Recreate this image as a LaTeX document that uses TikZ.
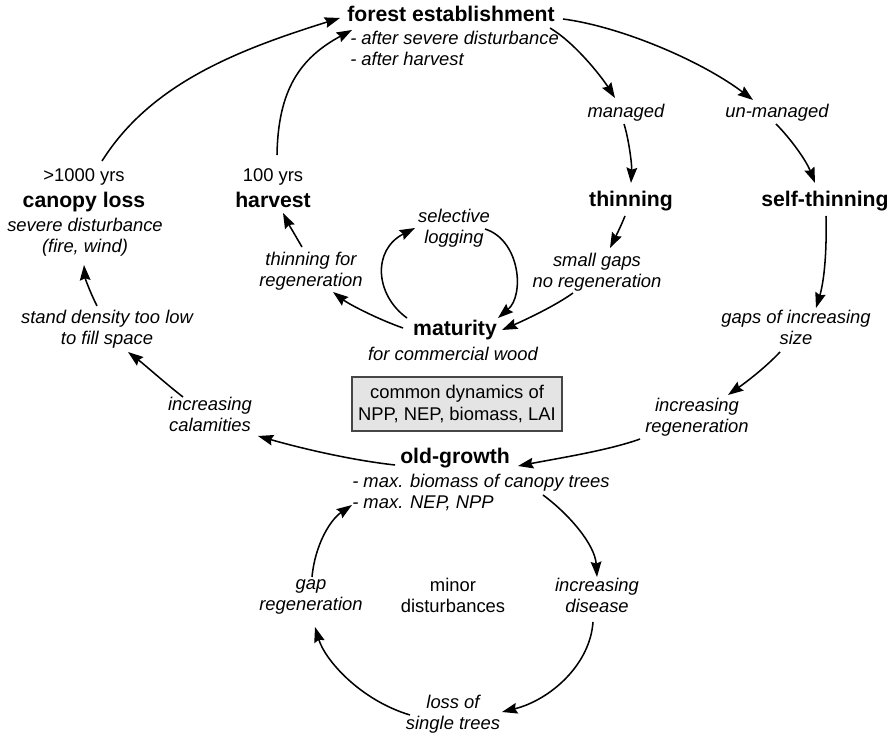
\documentclass[tikz,border=0pt]{standalone}
\usepackage{fontspec}
\setmainfont{Liberation Sans}
\usetikzlibrary{arrows.meta,calc}
\definecolor{boxfill}{RGB}{228,228,228}
\definecolor{boxline}{RGB}{70,70,70}
\begin{document}
\begin{tikzpicture}[x=0.75pt,y=-0.75pt,
  lbl/.style={font=\itshape\fontsize{13.8}{15.75}\selectfont, align=center, inner sep=0pt,
    execute at begin node=\strut, execute at end node=\strut},
  plainlbl/.style={font=\fontsize{13.8}{15.75}\selectfont, align=center, inner sep=0pt,
    execute at begin node=\strut, execute at end node=\strut},
  ttl/.style={font=\bfseries\fontsize{15.9}{19}\selectfont, inner sep=0pt, anchor=base},
  infobox/.style={draw=boxline, fill=boxfill, line width=0.8pt, align=center,
    font=\fontsize{13.8}{16.5}\selectfont, minimum width=157.5pt, minimum height=40.5pt, inner sep=0pt},
  arr/.style={-{Stealth[length=11.5pt,width=8pt,inset=1.5pt]}, line width=1.15pt}]
\useasboundingbox (0,0) rectangle (896,737);

% ---- nodes ----
\node[ttl] (fe) at (451,22) {forest establishment};
\node[lbl, anchor=west, align=left] (fesub) at (350,51.5) {- after severe disturbance\\- after harvest};
\node[lbl] (managed) at (626,113) {managed};
\node[lbl] (unmanaged) at (777,113) {un-managed};
\node[ttl] (thinning) at (631,207) {thinning};
\node[ttl] (selfthin) at (825,207) {self-thinning};
\node[plainlbl] (yrs1000) at (84,177) {>1000 yrs};
\node[ttl] (canopy) at (84,208) {canopy loss};
\node[lbl] (severe) at (85,238.5) {severe disturbance\\(fire, wind)};
\node[plainlbl] (yrs100) at (273,177) {100 yrs};
\node[ttl] (harvest) at (273,208) {harvest};
\node[lbl] (selective) at (454,229) {selective\\logging};
\node[lbl] (thinreg) at (311,272.5) {thinning for\\regeneration};
\node[lbl] (smallgaps) at (597,273) {small gaps\\no regeneration};
\node[ttl] (maturity) at (455,336) {maturity};
\node[lbl] (commercial) at (453,356) {for commercial wood};
\node[infobox] (box) at (457,404) {common dynamics of\\NPP, NEP, biomass, LAI};
\node[lbl] (stand) at (107,330) {stand density too low\\to fill space};
\node[lbl] (calam) at (210,417.5) {increasing\\calamities};
\node[lbl] (gapsinc) at (796,330) {gaps of increasing\\size};
\node[lbl] (increg) at (697,418) {increasing\\regeneration};
\node[ttl] (oldgrowth) at (455,464) {old-growth};
\node[lbl, anchor=west, align=left] (ogsub) at (352,494) {- max. biomass of canopy trees\\- max. NEP, NPP};
\node[lbl] (gapreg) at (311,598.5) {gap\\regeneration};
\node[plainlbl] (minor) at (453,598.5) {minor\\disturbances};
\node[lbl] (disease) at (597,598.5) {increasing\\disease};
\node[lbl] (loss) at (453,715.5) {loss of\\single trees};

% ---- connectors ----
\draw[arr] ($(yrs1000)+(18,-16)$) .. controls (150,85) and (234,51) .. ($(fe.base)+(-111,-4)$);
\draw[arr] ($(yrs100)+(4,-22)$) .. controls (278,90) and (300,58) .. ($(fe.base)+(-99,8)$);
\draw[arr] ($(fe.base)+(99,6)$) .. controls (575,43) and (601,76) .. ($(managed)+(-11,-15)$);
\draw[arr] ($(fe.base)+(112,-3)$) .. controls (623,27) and (703,62) .. ($(unmanaged)+(-24,-13)$);
\draw[arr] ($(managed)+(-2,11)$) .. controls (629,140) and (632,165) .. ($(thinning.base)+(0,-24)$);
\draw[arr] ($(unmanaged)+(-1,11)$) .. controls (790,138) and (806,160) .. ($(selfthin.base)+(-10,-24)$);
\draw[arr] ($(thinning.base)+(-6,9)$) .. controls (621,226) and (615,238) .. ($(smallgaps)+(13,-25)$);
\draw[arr] ($(selfthin.base)+(1,9)$) .. controls (827,260) and (823,285) .. ($(gapsinc)+(20,-22)$);
\draw[arr] ($(gapsinc)+(-16,22)$) .. controls (765,368) and (745,383) .. ($(increg)+(31,-23)$);
\draw[arr] ($(increg)+(-57,21)$) .. controls (610,450) and (560,458) .. ($(oldgrowth.base)+(63,2)$);
\draw[arr] ($(smallgaps)+(-24,20)$) .. controls (555,306) and (525,320) .. ($(maturity.base)+(47,-6)$);
\draw[arr] ($(maturity.base)+(-48,-18)$) .. controls (375,295) and (372,250) .. ($(selective)+(-39,-1)$);
\draw[arr] ($(selective)+(31,0)$) .. controls (520,240) and (525,295) .. ($(maturity.base)+(43,-18)$);
\draw[arr] ($(maturity.base)+(-52,-8)$) .. controls (380,320) and (350,305) .. ($(thinreg)+(22,19.5)$);
\draw[arr] ($(thinreg)+(-9,-25.5)$) .. controls (295,235) and (288,223) .. ($(harvest.base)+(10,5)$);
\draw[arr] ($(stand)+(-10,-24)$) .. controls (90,292) and (85,278) .. ($(severe)+(-1,26.5)$);
\draw[arr] ($(calam)+(-27,-20.5)$) .. controls (165,383) and (145,365) .. ($(stand)+(21,22)$);
\draw[arr] ($(oldgrowth.base)+(-60,1)$) .. controls (350,460) and (300,448) .. ($(calam)+(48,18.5)$);
\draw[arr] ($(oldgrowth.base)+(88,31)$) .. controls (570,515) and (595,545) .. ($(disease)+(0,-21.5)$);
\draw[arr] ($(disease)+(-4,23.5)$) .. controls (590,665) and (550,700) .. ($(loss)+(49,-3.5)$);
\draw[arr] ($(loss)+(-43,-0.5)$) .. controls (360,700) and (325,660) .. ($(gapreg)+(4,28.5)$);
\draw[arr] ($(gapreg)+(1,-21.5)$) .. controls (315,545) and (330,520) .. ($(oldgrowth.base)+(-103,41)$);
\end{tikzpicture}
\end{document}
